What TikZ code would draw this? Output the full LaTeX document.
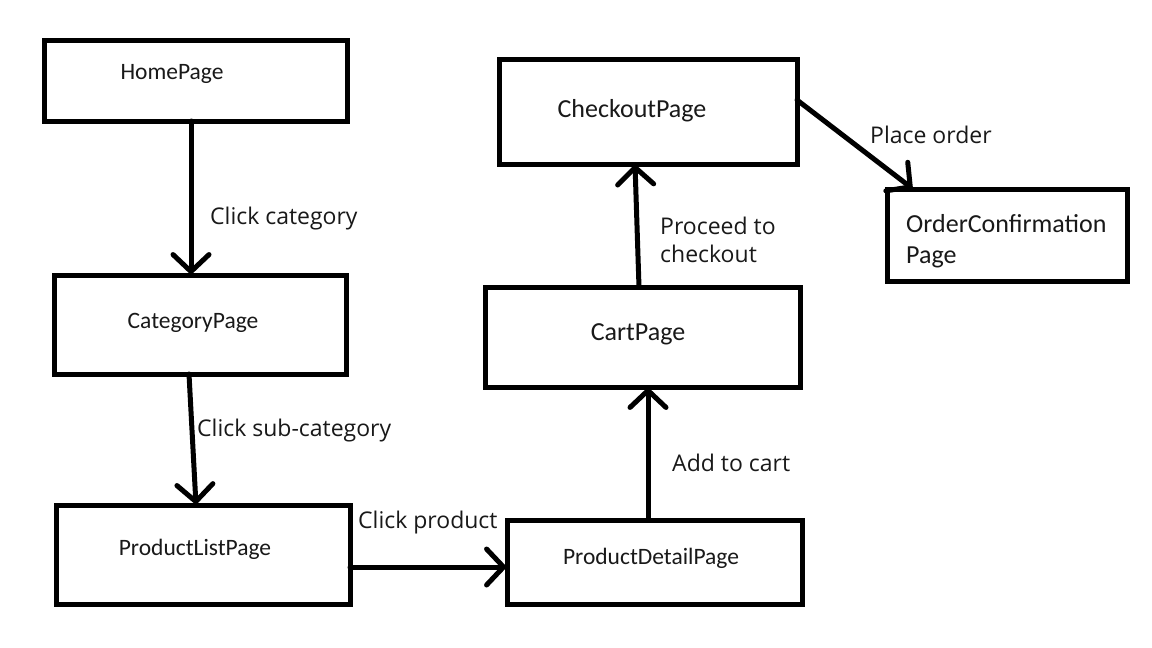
\documentclass[tikz,border=0pt]{standalone}
\usepackage{fontspec}
\setmainfont{Carlito}
\newfontfamily\labelfont{Open Sans}
\usetikzlibrary{arrows.meta}
\tikzset{
  pagebox/.style={draw=black, line width=5pt, rectangle, inner sep=0pt, outer sep=0pt, fill=white},
  boxtext/.style={inner sep=0pt, font=\fontsize{23.5}{28}\selectfont, text=black!90},
  bigtext/.style={inner sep=0pt, font=\fontsize{26}{31}\selectfont, text=black!90},
  edgelabel/.style={inner sep=0pt, anchor=west, font=\labelfont\fontsize{23}{28}\selectfont, text=black!90, align=left},
  flow/.style={line width=5pt, line cap=round, -{Straight Barb[length=17pt,width=36pt,line cap=round]}}
}
\begin{document}
\begin{tikzpicture}[x=1pt,y=-1pt]
\useasboundingbox[fill=white] (0,0) rectangle (1152,648);
% boxes
\node[pagebox, minimum width=302.5pt, minimum height=81pt] (home) at (195.75,80.5) {};
\node[pagebox, minimum width=292pt, minimum height=99pt] (category) at (200,324.5) {};
\node[pagebox, minimum width=294pt, minimum height=99pt] (plist) at (203,554.5) {};
\node[pagebox, minimum width=295pt, minimum height=84pt] (pdetail) at (654.5,562) {};
\node[pagebox, minimum width=315pt, minimum height=100pt] (cart) at (642.5,337) {};
\node[pagebox, minimum width=298pt, minimum height=105pt] (checkout) at (648,111.5) {};
\node[pagebox, minimum width=240pt, minimum height=92pt] (order) at (1007,235) {};
% box texts
\node[boxtext] (thome) at (172,74) {HomePage};
\node[boxtext] (tcategory) at (193,323) {CategoryPage};
\node[boxtext] (tplist) at (195,549) {ProductListPage};
\node[boxtext] (tpdetail) at (651,558) {ProductDetailPage};
\node[bigtext] (tcart) at (638,334) {CartPage};
\node[bigtext] (tcheckout) at (632,111) {CheckoutPage};
\node[inner sep=0pt, anchor=west, align=left, font=\fontsize{26}{30.5}\selectfont, text=black!90] (torder) at (906,241) {OrderConfirmation\\Page};
% connectors
\draw[flow] ([xshift=-4.75pt]home.south) -- ([xshift=-9pt]category.north);
\draw[flow] ([xshift=-11pt]category.south) -- ([xshift=-7pt]plist.north);
\draw[flow] ([yshift=-12.5pt]plist.east) -- ([yshift=-5pt]pdetail.west);
\draw[flow] ([xshift=-6.5pt]pdetail.north) -- ([xshift=5.5pt]cart.south);
\draw[flow] ([xshift=-3.5pt]cart.north) -- ([xshift=-13pt]checkout.south);
\draw[flow] ([yshift=11.5pt]checkout.east) -- ([xshift=26pt]order.north west);
% labels
\node[edgelabel] (lcat) at (210,219) {Click category};
\node[edgelabel] (lsub) at (197,431) {Click sub-category};
\node[edgelabel] (lprod) at (358,523) {Click product};
\node[edgelabel] (lcart) at (672,463) {Add to cart};
\node[edgelabel] (lcheck) at (660,240) {Proceed to\\checkout};
\node[edgelabel] (lorder) at (870,135) {Place order};
\end{tikzpicture}
\end{document}
